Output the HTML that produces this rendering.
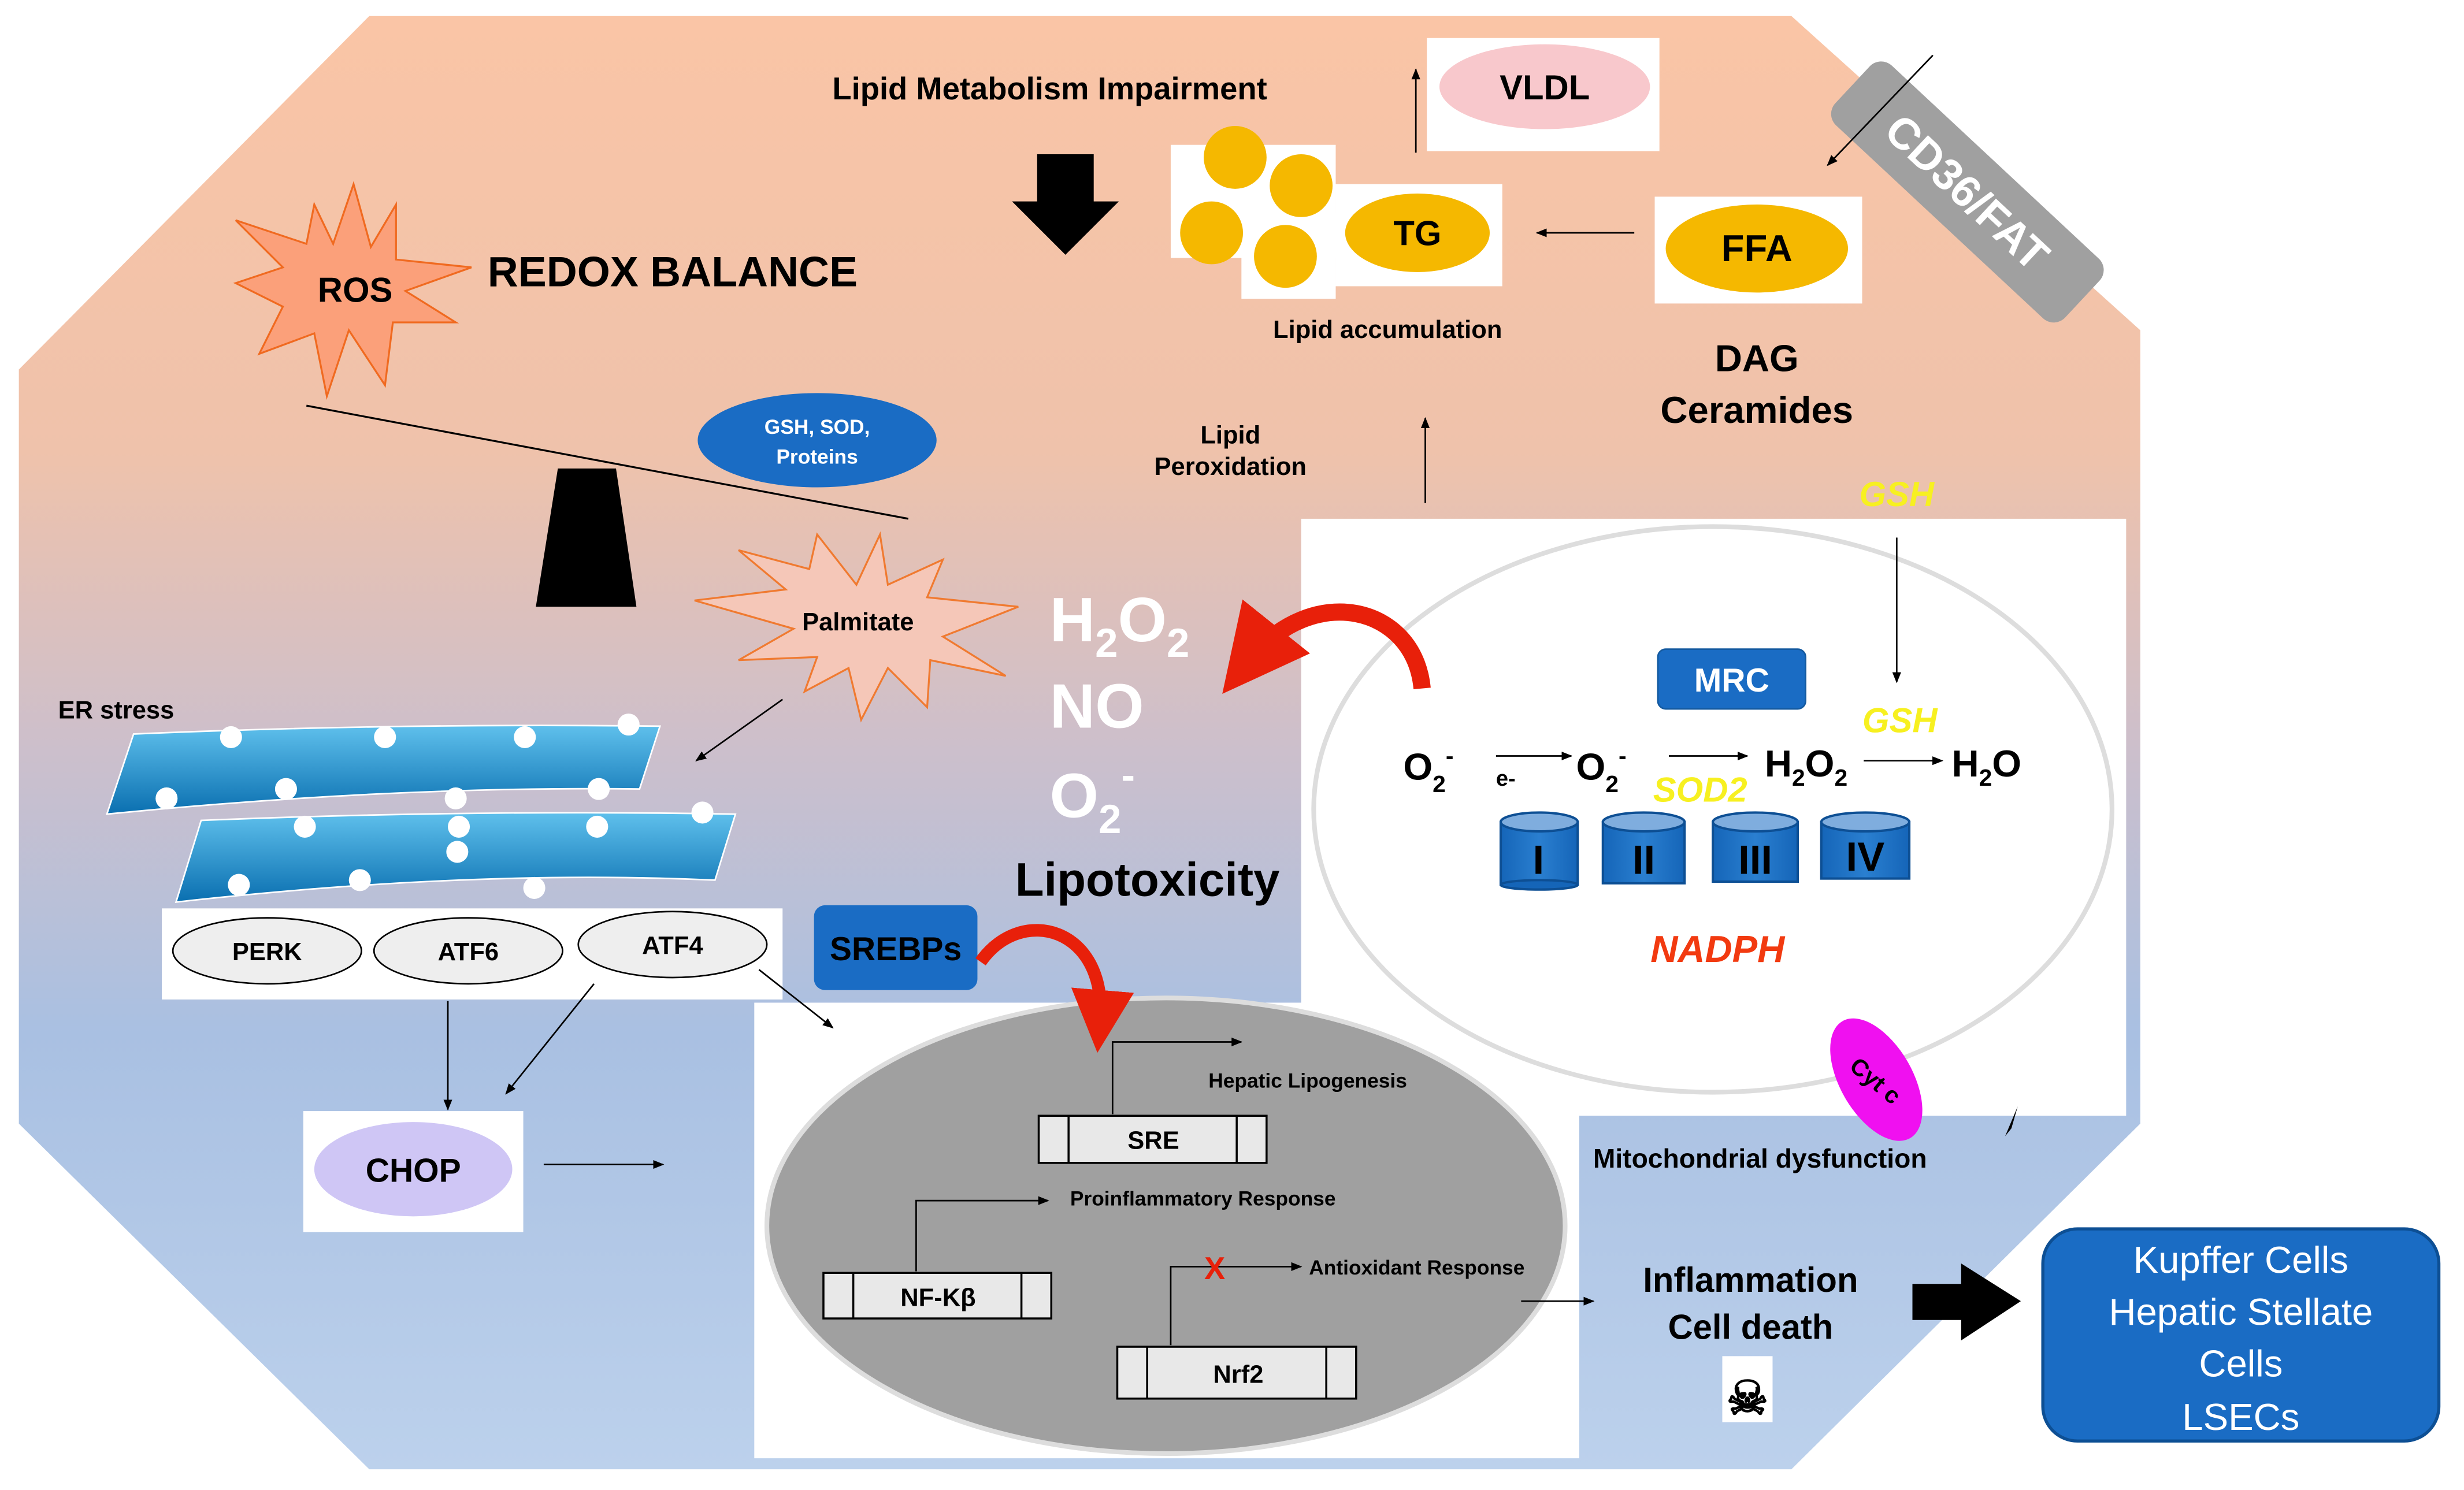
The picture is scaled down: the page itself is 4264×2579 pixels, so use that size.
<!DOCTYPE html>
<html><head><meta charset="utf-8"><style>
html,body{margin:0;padding:0;background:#fff;}
svg{display:block;}
text{font-family:"Liberation Sans Narrow","Liberation Sans",sans-serif;font-weight:bold;}
</style></head><body>
<svg width="4264" height="2579" viewBox="0 0 1568 948" xmlns="http://www.w3.org/2000/svg">
<defs>
<linearGradient id="bg" x1="0" y1="0" x2="0" y2="1">
<stop offset="0" stop-color="#fac5a6"/><stop offset="0.3" stop-color="#efc2ab"/><stop offset="0.5" stop-color="#cdbfcb"/><stop offset="0.7" stop-color="#a9c0e2"/><stop offset="1" stop-color="#bcd1ec"/>
</linearGradient>
<linearGradient id="er" x1="0" y1="0" x2="0" y2="1"><stop offset="0" stop-color="#5fc0ec"/><stop offset="1" stop-color="#0a6fb0"/></linearGradient>
<linearGradient id="cyl" x1="0" y1="0" x2="1" y2="0"><stop offset="0" stop-color="#1565b8"/><stop offset="0.5" stop-color="#2a7fd0"/><stop offset="1" stop-color="#1565b8"/></linearGradient>
<marker id="ah" viewBox="0 0 10 10" refX="9" refY="5" markerWidth="7" markerHeight="7" orient="auto"><path d="M0,1 L10,5 L0,9z" fill="#000"/></marker>
<marker id="rh" viewBox="0 0 10 10" refX="5" refY="5" markerWidth="5" markerHeight="5" orient="auto"><path d="M0,0 L10,5 L0,10z" fill="#e8200a"/></marker>
</defs>
<polygon points="235,10 1140,10 1362,210 1362,715 1140,935 235,935 12,715 12,235" fill="url(#bg)"/>
<!-- white boxes -->
<rect x="828" y="330" width="525" height="380" fill="#fff"/>
<rect x="480" y="638" width="525" height="290" fill="#fff"/>
<ellipse cx="1090" cy="515" rx="254" ry="180" fill="#fff" stroke="#ddd" stroke-width="3"/>
<ellipse cx="742" cy="780" rx="254" ry="145" fill="#a0a0a0" stroke="#ddd" stroke-width="3"/>

<!-- top texts -->
<text x="668" y="63" font-size="20" text-anchor="middle">Lipid Metabolism Impairment</text>
<polygon points="660,98 696,98 696,128 712,128 678,162 644,128 660,128" fill="#000"/>
<text x="428" y="182" font-size="27" text-anchor="middle">REDOX BALANCE</text>
<polygon points="225,117 236,157 252,130 252,165 300,170 258,185 290,205 250,205 245,245 222,210 208,252 200,212 165,225 180,195 150,180 180,170 150,140 195,155 200,130 212,155" fill="#fba07a" stroke="#f06a20" stroke-width="1.2"/>
<text x="226" y="192" font-size="22" text-anchor="middle">ROS</text>
<line x1="195" y1="258" x2="578" y2="330" stroke="#000" stroke-width="1.2"/>
<polygon points="355,298 392,298 405,386 341,386" fill="#000"/>
<ellipse cx="520" cy="280" rx="76" ry="30" fill="#1a6cc4"/>
<text x="520" y="276" font-size="13" fill="#fff" text-anchor="middle">GSH, SOD,</text>
<text x="520" y="295" font-size="13" fill="#fff" text-anchor="middle">Proteins</text>
<polygon points="545,372 560,340 565,372 600,356 590,380 648,386 600,405 640,430 592,420 590,450 565,425 548,458 540,425 512,440 520,418 470,420 505,400 442,382 500,375 470,350 515,362 520,340" fill="#f5c7b8" stroke="#f07a30" stroke-width="1.2"/>
<text x="546" y="401" font-size="16" text-anchor="middle">Palmitate</text>
<line x1="498" y1="445" x2="443" y2="484" stroke="#000" stroke-width="1" marker-end="url(#ah)"/>
<text x="668" y="408" font-size="40" fill="#fff">H<tspan font-size="26" dy="10">2</tspan><tspan dy="-10">O</tspan><tspan font-size="26" dy="10">2</tspan></text>
<text x="668" y="463" font-size="40" fill="#fff">NO</text>
<text x="668" y="520" font-size="40" fill="#fff">O<tspan font-size="26" dy="10">2</tspan><tspan font-size="26" dy="-28">-</tspan></text>
<text x="646" y="570" font-size="30">Lipotoxicity</text>
<path d="M905,438 C900,385 835,370 795,420" fill="none" stroke="#e8200a" stroke-width="11" marker-end="url(#rh)"/>

<!-- lipid accumulation -->
<rect x="745" y="92" width="105" height="72" fill="#fff"/>
<rect x="790" y="135" width="60" height="55" fill="#fff"/>
<circle cx="786" cy="100" r="20" fill="#f5b800"/><circle cx="828" cy="118" r="20" fill="#f5b800"/>
<circle cx="771" cy="148" r="20" fill="#f5b800"/><circle cx="818" cy="163" r="20" fill="#f5b800"/>
<rect x="850" y="117" width="106" height="65" fill="#fff"/>
<ellipse cx="902" cy="148" rx="46" ry="25" fill="#f5b800"/>
<text x="902" y="156" font-size="22" text-anchor="middle">TG</text>
<text x="883" y="215" font-size="16" text-anchor="middle">Lipid accumulation</text>
<line x1="901" y1="97" x2="901" y2="44" stroke="#000" stroke-width="1" marker-end="url(#ah)"/>
<rect x="908" y="24" width="148" height="72" fill="#fff"/>
<ellipse cx="983" cy="55" rx="67" ry="27" fill="#f8c8cc"/>
<text x="983" y="63" font-size="22" text-anchor="middle">VLDL</text>
<line x1="1040" y1="148" x2="978" y2="148" stroke="#000" stroke-width="1" marker-end="url(#ah)"/>
<rect x="1053" y="125" width="132" height="68" fill="#fff"/>
<ellipse cx="1118" cy="158" rx="58" ry="28" fill="#f5b800"/>
<text x="1118" y="166" font-size="24" text-anchor="middle">FFA</text>
<text x="1118" y="236" font-size="24" text-anchor="middle">DAG</text>
<text x="1118" y="269" font-size="24" text-anchor="middle">Ceramides</text>
<g transform="translate(1252,122) rotate(43)"><rect x="-100" y="-26" width="200" height="52" rx="10" fill="#a0a0a0"/><text x="0" y="10" font-size="28" fill="#fff" text-anchor="middle">CD36/FAT</text></g>
<line x1="1230" y1="35" x2="1163" y2="105" stroke="#000" stroke-width="1" marker-end="url(#ah)"/>
<text x="783" y="282" font-size="16" text-anchor="middle">Lipid</text>
<text x="783" y="302" font-size="16" text-anchor="middle">Peroxidation</text>
<line x1="907" y1="320" x2="907" y2="266" stroke="#000" stroke-width="1" marker-end="url(#ah)"/>

<!-- mito -->
<text x="1207" y="322" font-size="22" font-style="italic" fill="#f7f020" text-anchor="middle">GSH</text>
<line x1="1207" y1="342" x2="1207" y2="434" stroke="#000" stroke-width="1" marker-end="url(#ah)"/>
<text x="1209" y="466" font-size="22" font-style="italic" fill="#f7f020" text-anchor="middle">GSH</text>
<rect x="1055" y="413" width="94" height="38" rx="5" fill="#1a6cc4" stroke="#145aa0"/>
<text x="1102" y="440" font-size="21" fill="#fff" text-anchor="middle">MRC</text>
<text x="893" y="496" font-size="24">O<tspan font-size="15" dy="8">2</tspan><tspan font-size="15" dy="-18">-</tspan></text>
<text x="952" y="500" font-size="14">e-</text>
<line x1="952" y1="481" x2="1000" y2="481" stroke="#000" stroke-width="1" marker-end="url(#ah)"/>
<text x="1003" y="496" font-size="24">O<tspan font-size="15" dy="8">2</tspan><tspan font-size="15" dy="-18">-</tspan></text>
<line x1="1062" y1="481" x2="1112" y2="481" stroke="#000" stroke-width="1" marker-end="url(#ah)"/>
<text x="1052" y="510" font-size="22" font-style="italic" fill="#f7f020">SOD2</text>
<text x="1123" y="494" font-size="24">H<tspan font-size="15" dy="6">2</tspan><tspan dy="-6">O</tspan><tspan font-size="15" dy="6">2</tspan></text>
<line x1="1186" y1="484" x2="1236" y2="484" stroke="#000" stroke-width="1" marker-end="url(#ah)"/>
<text x="1242" y="494" font-size="24">H<tspan font-size="15" dy="6">2</tspan><tspan dy="-6">O</tspan></text>
<g stroke="#0d4f94" stroke-width="1.5">
<rect x="955" y="523" width="49" height="40" fill="url(#cyl)"/><ellipse cx="979.5" cy="523" rx="24.5" ry="6" fill="#7fadde"/><ellipse cx="979.5" cy="563" rx="24.5" ry="3" fill="#1565b8"/>
<rect x="1020" y="523" width="52" height="39" fill="url(#cyl)"/><ellipse cx="1046" cy="523" rx="26" ry="6" fill="#7fadde"/>
<rect x="1090" y="523" width="54" height="38" fill="url(#cyl)"/><ellipse cx="1117" cy="523" rx="27" ry="6" fill="#7fadde"/>
<rect x="1159" y="523" width="56" height="36" fill="url(#cyl)"/><ellipse cx="1187" cy="523" rx="28" ry="6" fill="#7fadde"/>
</g>
<g font-size="26" text-anchor="middle"><text x="979" y="556">I</text><text x="1046" y="556">II</text><text x="1117" y="556">III</text><text x="1187" y="554">IV</text></g>
<text x="1093" y="612" font-size="24" font-style="italic" fill="#f23a10" text-anchor="middle">NADPH</text>
<g transform="translate(1194,687) rotate(-30)"><ellipse rx="23" ry="43" fill="#f010f0"/><text x="0" y="6" font-size="15" text-anchor="middle" transform="rotate(70)">Cyt c</text></g>
<polygon points="1276,723 1284,704 1280,718" fill="#000"/>
<text x="1120" y="743" font-size="17" text-anchor="middle">Mitochondrial dysfunction</text>

<!-- ER stress -->
<text x="37" y="457" font-size="16">ER stress</text>
<path d="M85,467 Q250,460 420,462 L407,502 Q250,500 68,518z" fill="url(#er)" stroke="#fff" stroke-width="1"/>
<path d="M128,522 Q300,515 468,518 L455,560 Q300,553 112,574z" fill="url(#er)" stroke="#fff" stroke-width="1"/>
<g fill="#fff"><circle cx="147" cy="469" r="7"/><circle cx="245" cy="469" r="7"/><circle cx="334" cy="469" r="7"/><circle cx="400" cy="461" r="7"/><circle cx="106" cy="508" r="7"/><circle cx="182" cy="502" r="7"/><circle cx="290" cy="508" r="7"/><circle cx="381" cy="502" r="7"/><circle cx="194" cy="526" r="7"/><circle cx="292" cy="526" r="7"/><circle cx="380" cy="526" r="7"/><circle cx="447" cy="517" r="7"/><circle cx="152" cy="563" r="7"/><circle cx="229" cy="560" r="7"/><circle cx="291" cy="542" r="7"/><circle cx="340" cy="565" r="7"/></g>
<rect x="103" y="578" width="395" height="58" fill="#fff"/>
<g stroke="#000" stroke-width="1" fill="#eee"><ellipse cx="170" cy="605" rx="60" ry="21"/><ellipse cx="298" cy="605" rx="60" ry="21"/><ellipse cx="428" cy="601" rx="60" ry="21"/></g>
<g font-size="16" text-anchor="middle"><text x="170" y="611">PERK</text><text x="298" y="611">ATF6</text><text x="428" y="607">ATF4</text></g>
<line x1="285" y1="637" x2="285" y2="706" stroke="#000" stroke-width="1" marker-end="url(#ah)"/>
<line x1="378" y1="626" x2="322" y2="696" stroke="#000" stroke-width="1" marker-end="url(#ah)"/>
<line x1="483" y1="617" x2="530" y2="654" stroke="#000" stroke-width="1" marker-end="url(#ah)"/>
<rect x="193" y="707" width="140" height="77" fill="#fff"/>
<ellipse cx="263" cy="744" rx="63" ry="30" fill="#cfc6f5"/>
<text x="263" y="752" font-size="21" text-anchor="middle">CHOP</text>
<line x1="346" y1="741" x2="422" y2="741" stroke="#000" stroke-width="1" marker-end="url(#ah)"/>
<rect x="518" y="576" width="104" height="54" rx="7" fill="#1a6cc4"/>
<text x="570" y="611" font-size="21" text-anchor="middle">SREBPs</text>
<path d="M624,612 C650,575 705,590 700,650" fill="none" stroke="#e8200a" stroke-width="8" marker-end="url(#rh)"/>

<!-- nucleus -->
<g stroke="#000" stroke-width="1.3" fill="#e8e8e8">
<rect x="661" y="710" width="145" height="30"/><line x1="680" y1="710" x2="680" y2="740"/><line x1="787" y1="710" x2="787" y2="740"/>
<rect x="524" y="810" width="145" height="29"/><line x1="543" y1="810" x2="543" y2="839"/><line x1="650" y1="810" x2="650" y2="839"/>
<rect x="711" y="857" width="152" height="33"/><line x1="730" y1="857" x2="730" y2="890"/><line x1="844" y1="857" x2="844" y2="890"/>
</g>
<g font-size="16" text-anchor="middle"><text x="734" y="731">SRE</text><text x="597" y="831">NF-Kβ</text><text x="788" y="880">Nrf2</text></g>
<polyline points="708,709 708,663 790,663" fill="none" stroke="#000" stroke-width="1" marker-end="url(#ah)"/>
<text x="769" y="692" font-size="13">Hepatic Lipogenesis</text>
<polyline points="583,809 583,764 667,764" fill="none" stroke="#000" stroke-width="1" marker-end="url(#ah)"/>
<text x="681" y="767" font-size="13">Proinflammatory Response</text>
<polyline points="745,856 745,806 828,806" fill="none" stroke="#000" stroke-width="1" marker-end="url(#ah)"/>
<text x="773" y="814" font-size="20" fill="#e8200a" text-anchor="middle">X</text>
<text x="833" y="811" font-size="13">Antioxidant Response</text>
<line x1="968" y1="828" x2="1014" y2="828" stroke="#000" stroke-width="1" marker-end="url(#ah)"/>
<text x="1114" y="822" font-size="22" text-anchor="middle">Inflammation</text>
<text x="1114" y="852" font-size="22" text-anchor="middle">Cell death</text>
<rect x="1096" y="863" width="32" height="42" fill="#fff"/>
<text x="1112" y="900" font-size="30" text-anchor="middle" font-family="DejaVu Sans">☠</text>
<polygon points="1217,817 1248,817 1248,804 1286,828 1248,853 1248,840 1217,840" fill="#000"/>
<rect x="1300" y="782" width="252" height="135" rx="22" fill="#1a6cc4" stroke="#0d4f94" stroke-width="2"/>
<g font-size="24" fill="#fff" text-anchor="middle" font-weight="normal" style="font-weight:normal">
<text x="1426" y="810" style="font-weight:normal">Kupffer Cells</text><text x="1426" y="843" style="font-weight:normal">Hepatic Stellate</text><text x="1426" y="876" style="font-weight:normal">Cells</text><text x="1426" y="910" style="font-weight:normal">LSECs</text></g>
</svg>
</body></html>
